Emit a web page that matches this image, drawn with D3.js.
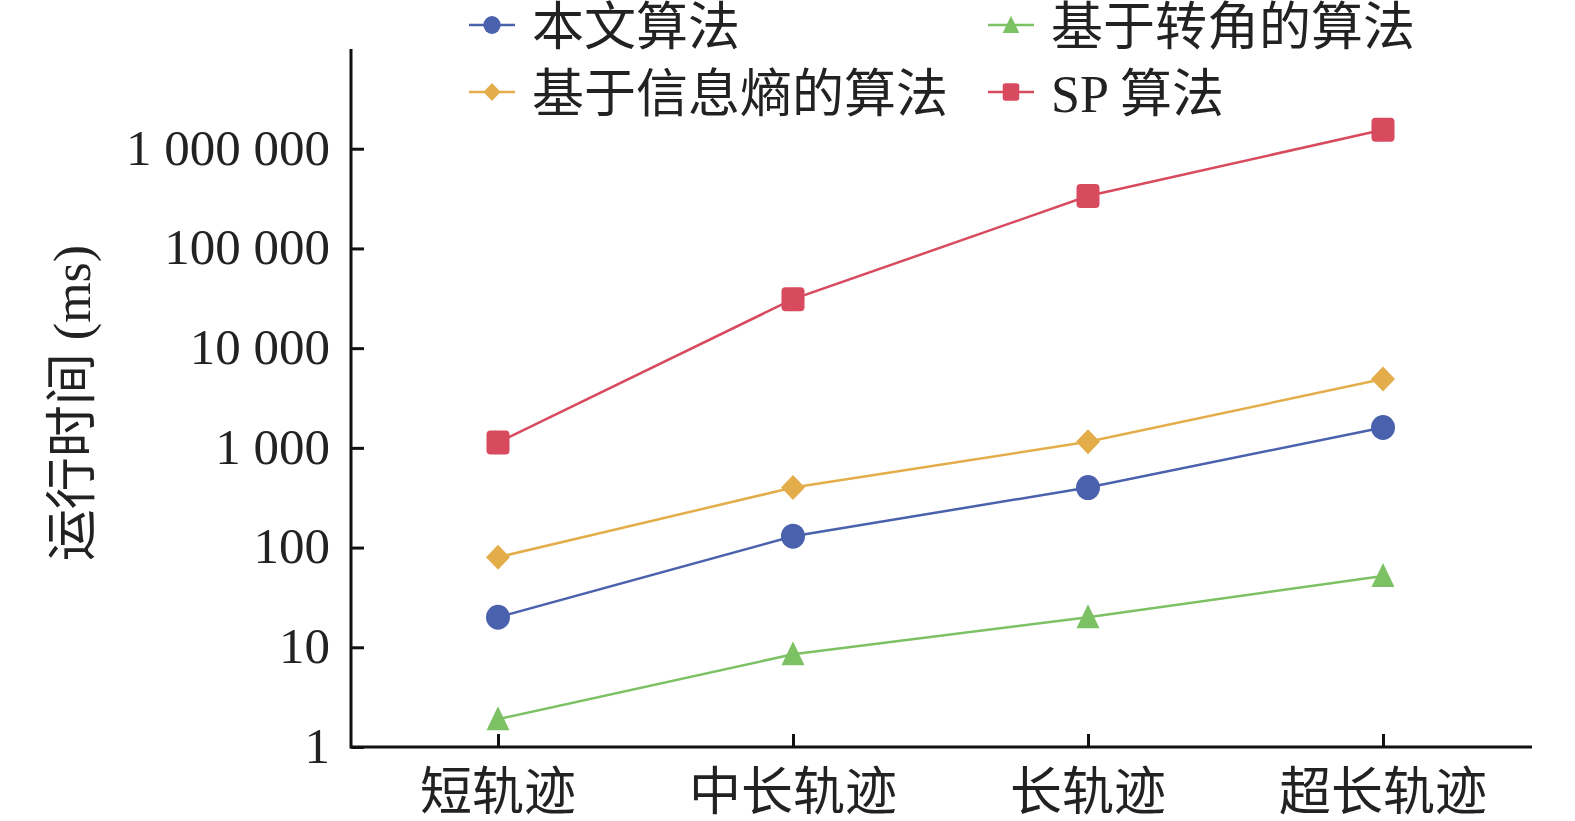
<!DOCTYPE html>
<html>
<head>
<meta charset="utf-8">
<script src="https://cdn.jsdelivr.net/npm/d3@7"></script>
<style>
  html, body { margin: 0; background: #fff; overflow: hidden; }
  svg { display: block; }
  text { font-family: "Liberation Serif", "Noto Sans CJK SC", serif; fill: #222; }
</style>
</head>
<body>
<svg width="1575" height="821"></svg>
<script>
var categories = ["短轨迹", "中长轨迹", "长轨迹", "超长轨迹"];
var seriesNames = ["本文算法", "基于转角的算法", "基于信息熵的算法", "SP 算法"];
var oursValues = [20, 130, 400, 1600];
var turnValues = [1.9, 8.5, 20, 52];
var entropyValues = [80, 400, 1150, 4900];
var spValues = [1130, 31000, 335000, 1550000];
var yTicks = [1, 10, 100, 1000, 10000, 100000, 1000000];
var yTickLabels = ["1", "10", "100", "1 000", "10 000", "100 000", "1 000 000"];

var series = [
    {name: seriesNames[0], values: oursValues, color: "#4a62ad", shape: "circle"},
    {name: seriesNames[1], values: turnValues, color: "#7cc164", shape: "triangle"},
    {name: seriesNames[2], values: entropyValues, color: "#e3ae4a", shape: "diamond"},
    {name: seriesNames[3], values: spValues, color: "#d84a5e", shape: "square"}
];

var svg = d3.select("svg");
var plotLeft = 351, plotBottom = 747, plotTop = 49, plotRight = 1532;

var x = d3.scalePoint().domain(categories).range([498, 1383]);
var y = d3.scaleLog().domain([1, 1e7]).range([plotBottom, plotTop]);

// y axis, ticks pointing inward
var yAxis = svg.append("g")
    .attr("transform", "translate(" + plotLeft + ",0)")
    .call(d3.axisRight(y).tickValues(yTicks).tickSize(13)
        .tickFormat(function (d, i) { return yTickLabels[i]; }));
yAxis.select(".domain").remove();
yAxis.selectAll(".tick line").attr("stroke", "#111").attr("stroke-width", 3);
yAxis.selectAll(".tick text")
    .attr("x", -21).attr("dy", "0.3em")
    .attr("text-anchor", "end")
    .style("font-size", "51px");

var xAxis = svg.append("g")
    .attr("transform", "translate(0," + plotBottom + ")")
    .call(d3.axisTop(x).tickSize(13).tickFormat(""));
xAxis.select(".domain").remove();
xAxis.selectAll(".tick line").attr("stroke", "#111").attr("stroke-width", 3);

svg.append("g").selectAll("text")
    .data(categories)
    .enter().append("text")
    .attr("x", function (d) { return x(d); })
    .attr("y", 810)
    .attr("text-anchor", "middle")
    .style("font-size", "52px")
    .text(function (d) { return d; });

// axis lines
svg.append("path")
    .attr("d", "M" + plotLeft + "," + plotTop + "V" + plotBottom + "H" + plotRight)
    .attr("fill", "none")
    .attr("stroke", "#111")
    .attr("stroke-width", 3);

svg.append("text")
    .attr("transform", "translate(90,403) rotate(-90)")
    .attr("text-anchor", "middle")
    .style("font-size", "52px")
    .text("运行时间 (ms)");

function drawMarker(g, shape, color, cx, cy) {
    if (shape == "circle") {
        g.append("ellipse").attr("cx", cx).attr("cy", cy).attr("rx", 12).attr("ry", 12.5).attr("fill", color);
    } else if (shape == "square") {
        g.append("rect").attr("x", cx - 11.5).attr("y", cy - 12).attr("width", 23).attr("height", 24)
            .attr("rx", 4).attr("fill", color);
    } else if (shape == "diamond") {
        g.append("path").attr("d", "M" + cx + "," + (cy - 12.5) + "L" + (cx + 12) + "," + cy +
            "L" + cx + "," + (cy + 12.5) + "L" + (cx - 12) + "," + cy + "Z").attr("fill", color);
    } else {
        g.append("path").attr("d", "M" + cx + "," + (cy - 13) + "L" + (cx + 11.5) + "," + (cy + 11) +
            "L" + (cx - 11.5) + "," + (cy + 11) + "Z").attr("fill", color);
    }
}

var line = d3.line()
    .x(function (d, i) { return x(categories[i]); })
    .y(function (d) { return y(d); });

series.forEach(function (s) {
    var g = svg.append("g");
    g.append("path")
        .attr("d", line(s.values))
        .attr("fill", "none")
        .attr("stroke", s.color)
        .attr("stroke-width", 2.5);
    s.values.forEach(function (v, i) {
        drawMarker(g, s.shape, s.color, x(categories[i]), y(v));
    });
});

// legend
var legendPos = [[469, 25], [988, 25], [469, 92], [988, 92]];
series.forEach(function (s, i) {
    var lx = legendPos[i][0], ly = legendPos[i][1];
    var g = svg.append("g");
    g.append("line")
        .attr("x1", lx).attr("x2", lx + 46)
        .attr("y1", ly).attr("y2", ly)
        .attr("stroke", s.color).attr("stroke-width", 2.5);
    var mg = g.append("g").attr("transform", "translate(" + (lx + 23) + "," + ly + ") scale(0.72)");
    drawMarker(mg, s.shape, s.color, 0, 0);
    g.append("text")
        .attr("x", lx + 63).attr("y", ly)
        .attr("dy", "0.38em")
        .style("font-size", "52px")
        .text(s.name);
});
</script>
</body>
</html>
